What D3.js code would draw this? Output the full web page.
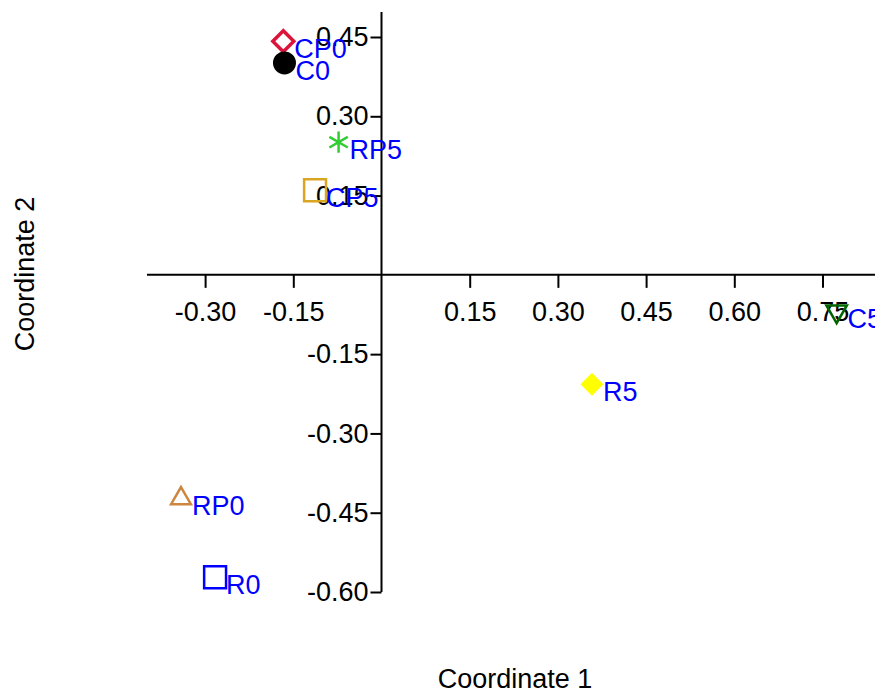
<!DOCTYPE html>
<html>
<head>
<meta charset="utf-8">
<script src="https://cdn.jsdelivr.net/npm/d3@7"></script>
<style>
  body { margin: 0; background: #fff; }
  svg { display: block; font-family: "Liberation Sans", Arial, sans-serif; }
</style>
</head>
<body>
<div class="mds-plot"></div>
<script>
// points of the MDS plot
const names = ['CP0', 'C0', 'RP5', 'CP5', 'C5', 'R5', 'RP0', 'R0'];
const coord1 = [-0.167, -0.165, -0.073, -0.113, 0.774, 0.358, -0.341, -0.283];
const coord2 = [0.442, 0.401, 0.251, 0.160, -0.069, -0.207, -0.423, -0.572];
const shapes = ['diamond', 'circle', 'asterisk', 'square', 'triangleDown', 'diamondFilled', 'triangle', 'square'];
const colors = ['#DC143C', '#000000', '#32CD32', '#DAA520', '#006400', '#FFFF00', '#CD853F', '#0000FF'];

const xTicks = [-0.30, -0.15, 0.15, 0.30, 0.45, 0.60, 0.75];
const yTicks = [-0.60, -0.45, -0.30, -0.15, 0.15, 0.30, 0.45];

const data = names.map((n, i) => ({ name: n, x: coord1[i], y: coord2[i], shape: shapes[i], color: colors[i] }));

scatterplot(data);

function scatterplot(data) {
	const width = 875;
	const height = 694;
	const fontSize = 27;
	const fmt = d => d.toFixed(2);

	const x = d3.scaleLinear().domain([-0.15, 0.75]).range([293.3, 822.5]);
	const y = d3.scaleLinear().domain([-0.60, 0.45]).range([592, 37]);

	const svg = d3.select('.mds-plot')
		.append('svg')
		.attr('width', width)
		.attr('height', height);

	// x axis through y = 0
	const xAxis = svg.append('g')
		.attr('transform', `translate(0,${y(0)})`)
		.call(d3.axisBottom(x).tickValues(xTicks).tickFormat(fmt).tickSize(13).tickSizeOuter(0));
	xAxis.select('.domain').attr('d', `M147,0H${width}`);

	// y axis through x = 0
	const yAxis = svg.append('g')
		.attr('transform', `translate(${x(0)},0)`)
		.call(d3.axisLeft(y).tickValues(yTicks).tickFormat(fmt).tickSize(11).tickSizeOuter(0));
	yAxis.select('.domain').attr('d', `M0,12V${y(-0.60)}`);

	svg.selectAll('.tick line').attr('stroke', '#000').attr('stroke-width', 2);
	svg.selectAll('.domain').attr('stroke', '#000').attr('stroke-width', 2);
	svg.selectAll('.tick text')
		.attr('fill', '#000')
		.style('font-size', fontSize + 'px')
		.style('font-family', '"Liberation Sans", Arial, sans-serif');
	xAxis.selectAll('.tick text').attr('y', 27);
	yAxis.selectAll('.tick text').attr('x', -13);

	// markers
	const sym = {
		circle: d3.symbol().type(d3.symbolCircle).size(330),
		square: d3.symbol().type(d3.symbolSquare).size(480),
		diamond: d3.symbol().type(d3.symbolDiamond2).size(280),
		diamondFilled: d3.symbol().type(d3.symbolDiamond2).size(240),
		triangle: d3.symbol().type(d3.symbolTriangle2).size(280),
		triangleDown: d3.symbol().type(d3.symbolTriangle2).size(300),
		asterisk: d3.symbol().type(d3.symbolAsterisk).size(320)
	};
	const filled = s => s === 'circle' || s === 'diamondFilled';

	svg.selectAll('path.pt')
		.data(data)
		.enter()
		.append('path')
		.attr('class', 'pt')
		.attr('d', d => sym[d.shape]())
		.attr('transform', d => `translate(${x(d.x)},${y(d.y)})` + (d.shape === 'triangleDown' ? ' rotate(180)' : ''))
		.style('fill', d => filled(d.shape) ? d.color : 'none')
		.style('stroke', d => d.color)
		.style('stroke-width', d => d.shape === 'diamond' ? 3.5 : 2.5);

	svg.selectAll('text.lbl')
		.data(data)
		.enter()
		.append('text')
		.attr('class', 'lbl')
		.attr('x', d => x(d.x) + 11)
		.attr('y', d => y(d.y) + 17)
		.text(d => d.name)
		.style('fill', '#0000FF')
		.style('font-size', fontSize + 'px');

	svg.append('text')
		.attr('x', 515)
		.attr('y', 688)
		.attr('text-anchor', 'middle')
		.style('font-size', fontSize + 'px')
		.text('Coordinate 1');

	svg.append('text')
		.attr('transform', 'translate(34,274) rotate(-90)')
		.attr('text-anchor', 'middle')
		.style('font-size', fontSize + 'px')
		.text('Coordinate 2');
}
</script>
</body>
</html>
